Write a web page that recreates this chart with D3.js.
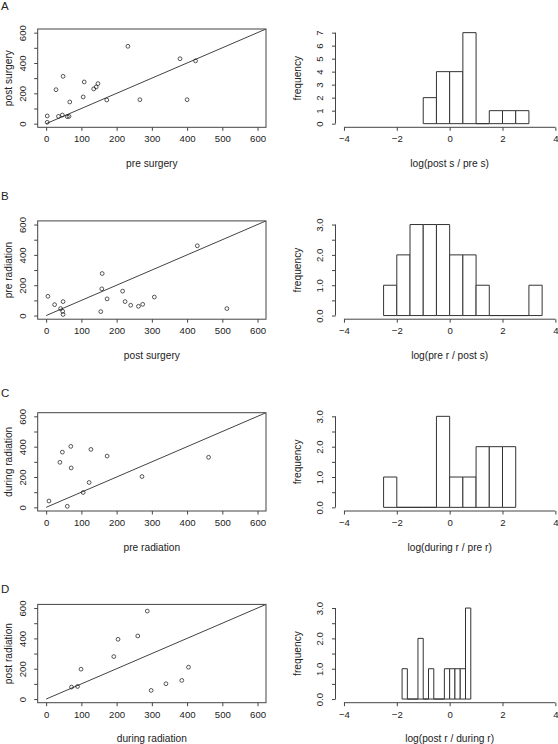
<!DOCTYPE html>
<html><head><meta charset="utf-8">
<script src="https://cdn.jsdelivr.net/npm/d3@7"></script>
<style>body{margin:0;background:#fff}svg{display:block}text{font-family:"Liberation Sans",Arial,sans-serif}</style>
</head><body>
<script>
// ---- data ----
const panelLetters = ["A","B","C","D"];
const scatterXLabels = ["pre surgery","post surgery","pre radiation","during radiation"];
const scatterYLabels = ["post surgery","pre radiation","during radiation","post radiation"];
const histXLabels = ["log(post s / pre s)","log(pre r / post s)","log(during r / pre r)","log(post r / during r)"];

const aX = [3,3,28,35,46,48,60,65,67,105,108,135,142,147,172,232,266,380,400,424];
const aY = [9,51,224,48,57,312,46,48,143,176,275,229,242,264,156,510,158,428,158,414];
const bX = [5,24,41,47,48,48,155,158,159,173,217,224,240,262,274,307,429,513];
const bY = [127,72,46,28,7,92,26,176,277,110,161,92,68,61,74,122,460,46];
const cX = [8,39,46,60,70,71,105,122,127,173,272,461];
const cY = [42,297,364,7,402,260,98,164,382,338,203,330];
const dX = [72,89,99,192,204,260,287,298,340,385,404];
const dY = [79,83,197,280,394,416,580,57,101,123,210];

const histAStart = -1,  histAWidth = 0.5, histACounts = [2,4,4,7,0,1,1,1];
const histBStart = -2.5, histBWidth = 0.5, histBCounts = [1,2,3,3,3,2,2,1,0,0,0,1];
const histCStart = -2.5, histCWidth = 0.5, histCCounts = [1,0,0,0,3,1,1,2,2,2];
const histDStart = -1.8, histDWidth = 0.2, histDCounts = [1,0,0,2,0,1,0,0,1,1,1,1,3];

const scatterTicks = [0,100,200,300,400,500,600];
const scatterYLabelTicks = [0,200,400,600];
const histXTicks = [-4,-2,0,2,4];
const histYMax = [7,3,3,3];

// ---- layout ----
const W = 558, H = 744;
const svg = d3.select("body").append("svg").attr("width", W).attr("height", H);
const rowTops = [29, 220.9, 412.7, 604.4];
const regionH = 98.3;
const letterY = [10, 200, 396.7, 593.3];
const sL = 37.7, sR = 266, hL = 335.5, hR = 563.8;
const ink = "#222", fs = 9.6;

const scatters = [[aX,aY],[bX,bY],[cX,cY],[dX,dY]];
const hists = [[histAStart,histAWidth,histACounts],[histBStart,histBWidth,histBCounts],
               [histCStart,histCWidth,histCCounts],[histDStart,histDWidth,histDCounts]];

for (let i = 0; i < 4; i++) {
  const top = rowTops[i], bot = top + regionH;
  svg.append("text").attr("x", 1).attr("y", letterY[i]).attr("font-size", 11.5).attr("fill", ink).text(panelLetters[i]);

  // ---------- scatter ----------
  const x = d3.scaleLinear().domain([-24, 624]).range([sL, sR]);
  const y = d3.scaleLinear().domain([-24, 624]).range([bot, top]);
  const g = svg.append("g");
  const clipId = "clip" + i;
  g.append("clipPath").attr("id", clipId).append("rect").attr("x", sL).attr("y", top).attr("width", sR - sL).attr("height", regionH);
  g.append("line").attr("clip-path", `url(#${clipId})`)
    .attr("x1", x(0)).attr("y1", y(0)).attr("x2", x(700)).attr("y2", y(700))
    .attr("stroke", "#111").attr("stroke-width", 0.8);
  const [xs, ys] = scatters[i];
  g.selectAll("circle").data(xs.map((v, k) => [v, ys[k]])).join("circle")
    .attr("cx", d => x(d[0])).attr("cy", d => y(d[1])).attr("r", 1.9)
    .attr("fill", "none").attr("stroke", "#111").attr("stroke-width", 0.7);
  g.append("rect").attr("x", sL).attr("y", top).attr("width", sR - sL).attr("height", regionH)
    .attr("fill", "none").attr("stroke", "#444").attr("stroke-width", 1);

  const xAx = g.append("g").attr("transform", `translate(0,${bot})`)
    .call(d3.axisBottom(x).tickValues(scatterTicks).tickSize(3.5).tickPadding(4.5).tickSizeOuter(0));
  xAx.select(".domain").remove();
  xAx.selectAll("line").attr("stroke", "#444");
  xAx.selectAll("text").attr("font-size", fs).attr("fill", ink).attr("font-family", null);

  const yAx = g.append("g").attr("transform", `translate(${sL},0)`)
    .call(d3.axisLeft(y).tickValues(scatterTicks).tickSize(3.5).tickFormat(d => scatterYLabelTicks.includes(d) ? d : ""));
  yAx.select(".domain").remove();
  yAx.selectAll("line").attr("stroke", "#444");
  yAx.selectAll("text").attr("font-size", fs).attr("fill", ink).attr("font-family", null)
    .attr("x", 0).attr("dy", null).attr("text-anchor", "middle")
    .attr("transform", `translate(${-15.4},0) rotate(-90)`)
    .attr("y", 3.4);

  g.append("text").attr("x", (x(0) + x(600)) / 2).attr("y", bot + 39.5).attr("text-anchor", "middle")
    .attr("font-size", 10.2).attr("fill", ink).text(scatterXLabels[i]);
  g.append("text").attr("transform", `translate(${12.2},${(top + bot) / 2}) rotate(-90)`).attr("text-anchor", "middle")
    .attr("font-size", 10.2).attr("fill", ink).text(scatterYLabels[i]);

  // ---------- histogram ----------
  const [start, width, counts] = hists[i];
  const ymax = histYMax[i];
  const hx = d3.scaleLinear().domain([-4.32, 4.32]).range([hL, hR]);
  const hy = d3.scaleLinear().domain([-ymax * 0.04, ymax * 1.04]).range([bot, top]);
  const hg = svg.append("g");
  hg.selectAll("path.bar").data(counts.map((c, k) => ({x0: start + k * width, x1: start + (k + 1) * width, c})))
    .join("path").attr("class", "bar")
    .attr("d", d => `M${hx(d.x0)},${hy(0)}V${hy(d.c)}H${hx(d.x1)}V${hy(0)}Z`)
    .attr("fill", "#fff").attr("stroke", "#333").attr("stroke-width", 1);

  const hxAx = hg.append("g").attr("transform", `translate(0,${bot})`)
    .call(d3.axisBottom(hx).tickValues(histXTicks).tickSize(3.5).tickPadding(4.5).tickSizeOuter(0));
  hxAx.select(".domain").attr("d", `M${hx(-4)},0H${hx(4)}`).attr("stroke", "#444");
  hxAx.selectAll("line").attr("stroke", "#444");
  hxAx.selectAll("text").attr("font-size", fs).attr("fill", ink).attr("font-family", null);

  const yTicks = ymax === 7 ? d3.range(0, 8) : d3.range(0, 3.01, 0.5);
  const hyAx = hg.append("g").attr("transform", `translate(${hL},0)`)
    .call(d3.axisLeft(hy).tickValues(yTicks).tickSize(3.5)
      .tickFormat(d => ymax === 7 ? d : (Number.isInteger(d) ? d.toFixed(1) : "")));
  hyAx.select(".domain").attr("d", `M0,${hy(0)}V${hy(ymax)}`).attr("stroke", "#444");
  hyAx.selectAll("line").attr("stroke", "#444");
  hyAx.selectAll("text").attr("font-size", fs).attr("fill", ink).attr("font-family", null)
    .attr("x", 0).attr("dy", null).attr("text-anchor", "middle")
    .attr("transform", `translate(${-15.8},0) rotate(-90)`).attr("y", 3.4);

  hg.append("text").attr("x", hx(0)).attr("y", bot + 39.5).attr("text-anchor", "middle")
    .attr("font-size", 10.2).attr("fill", ink).text(histXLabels[i]);
  hg.append("text").attr("transform", `translate(${hL - 35},${(top + bot) / 2}) rotate(-90)`).attr("text-anchor", "middle")
    .attr("font-size", 10.2).attr("fill", ink).text("frequency");
}
</script>
</body></html>
